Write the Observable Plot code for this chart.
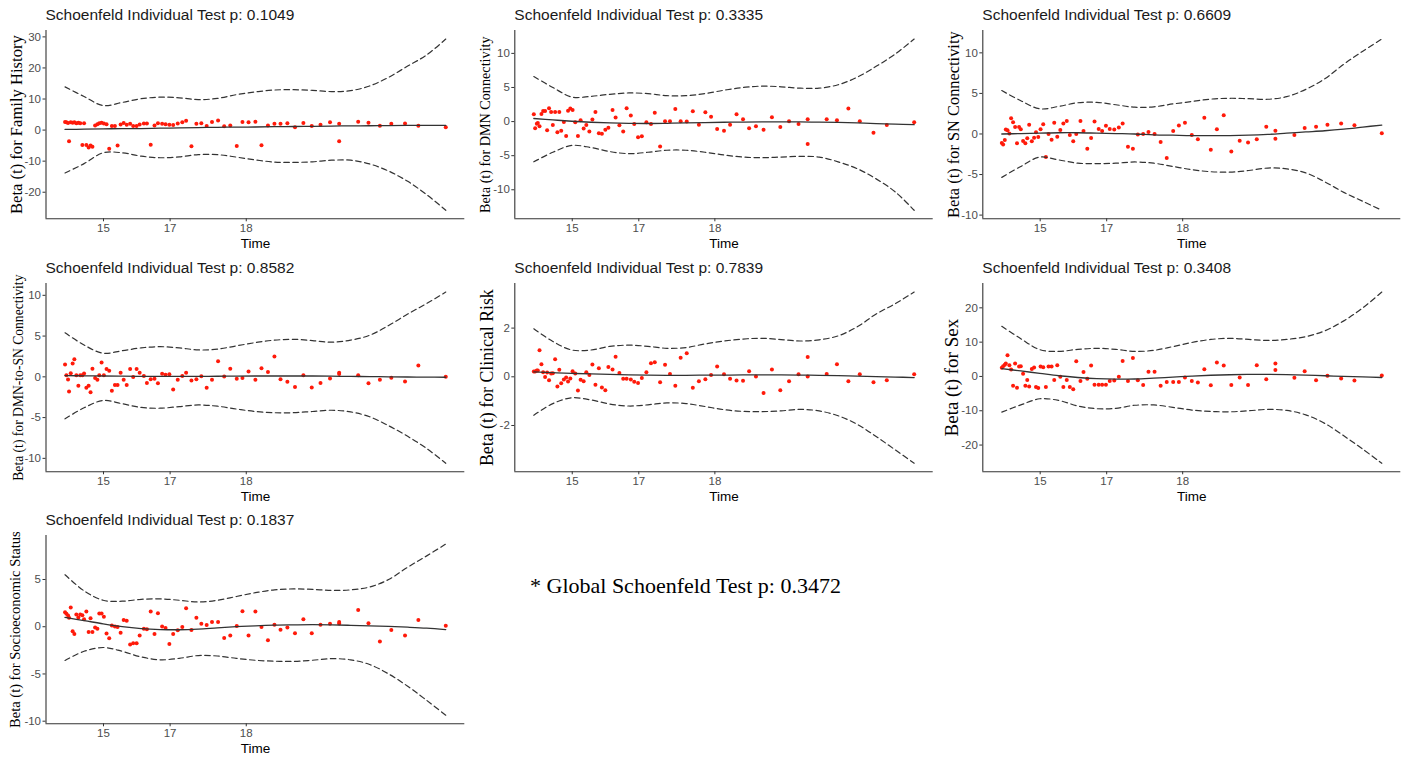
<!DOCTYPE html>
<html><head><meta charset="utf-8">
<script src="https://cdn.jsdelivr.net/npm/d3@7"></script>
<script src="https://cdn.jsdelivr.net/npm/@observablehq/plot@0.6"></script>
<style>
body{margin:0;background:#fff;width:1409px;height:761px;position:relative;overflow:hidden;font-family:"Liberation Sans",Arial,sans-serif}
.panel{position:absolute;width:469px;height:253px}
.panel svg{position:absolute;left:0;top:24px;overflow:visible}
.title{position:absolute;top:7.4px;font-size:15.5px;line-height:15.5px;color:#1a1a1a;white-space:nowrap}
.global{position:absolute;left:530px;top:574.6px;font-family:"Liberation Serif","Times New Roman",serif;font-size:22px;line-height:22px;color:#000;white-space:nowrap}
</style></head><body>
<script>
// transformed event-time positions (shared by all panels)
const tPos = [0,0.35,0.79,1.05,1.5,2.0,2.45,2.97,3.5,4.0,4.55,5.0,5.6,6.2,6.7,7.2,7.9,8.5,9.0,9.6,10.2,10.9,11.6,12.3,13.1,13.8,14.6,15.4,16.2,17.1,17.9,18.8,19.6,20.7,21.5,22.5,23.5,24.4,25.5,26.4,27.4,28.4,29.6,30.8,31.8,33.2,34.5,35.8,37.2,38.6,40.2,41.8,43.4,45.1,46.6,48.2,50.0,51.6,53.3,55.0,56.6,58.4,60.4,62.6,64.8,67.1,69.6,72.0,72.0,77.0,79.7,82.7,85.7,89.3,92.8,100];
const timeTickPos = [10.1, 27.6, 47.6];
const timeTickLabels = ["15", "17", "18"];
const curveT = [0,5,10,15,20,25,30,35,40,45,50,55,60,65,70,75,80,85,90,95,100];

const pValues = ["0.1049","0.3335","0.6609","0.8582","0.7839","0.3408","0.1837"];
const covariates = ["Family History","DMN Connectivity","SN Connectivity","DMN-to-SN Connectivity","Clinical Risk","Sex","Socioeconomic Status"];
const yTicks = [[-20,-10,0,10,20,30],[-10,-5,0,5,10],[-10,-5,0,5,10],[-10,-5,0,5,10],[-2,0,2],[-20,-10,0,10,20],[-10,-5,0,5]];
const globalP = "0.3472";

// residuals
const betaFamily = [2.6,2.5,2.3,-3.6,2.5,2.4,2.5,2.2,2.4,2.2,-4.8,2.2,-4.8,-5.6,-5.0,-5.4,1.5,1.9,2.2,2.4,2.1,1.9,-6.0,1.3,1.3,-5.0,1.8,2.3,1.7,2.0,1.3,1.3,1.8,2.1,2.1,-4.7,1.5,2.2,2.0,1.9,1.7,1.6,2.1,2.5,3.0,-5.2,2.0,2.2,1.3,2.6,3.1,1.2,1.5,-5.1,2.6,2.5,2.7,-4.9,1.5,2.0,2.0,2.2,0.9,2.3,1.3,1.7,2.5,2.0,-3.6,2.7,2.4,1.4,2.0,2.1,1.4,0.9];
const betaDMN = [1.07,-0.97,-0.3,-0.2,-0.7,1.1,1.55,1.55,-1.27,1.95,1.4,-0.5,1.4,-1.55,1.4,-1.36,-0.05,-2.1,1.6,1.9,1.7,-0.1,-2.1,0.2,-1.0,-0.5,-1.46,0.3,1.4,-1.7,-1.8,-1.2,-0.9,1.7,0.6,-0.55,-1.46,1.95,0.9,-0.35,-2.3,-2.15,-0.1,-0.35,1.3,-3.65,0.05,0.05,1.85,0.05,0.0,1.5,-0.45,1.35,0.7,-1.1,-1.36,-0.45,1.07,0.35,-0.97,-0.7,-1.2,0.65,-0.8,0.05,-0.35,0.35,-3.3,0.35,0.2,1.9,0.05,-1.65,-0.5,-0.1];
const betaSN = [-1.1,-1.3,-0.75,0.55,0.45,0.05,1.95,1.45,0.87,-1.15,0.87,0.58,-0.87,-1.15,-0.54,1.15,-0.9,-0.45,0.2,-0.37,0.58,1.2,-2.85,0.0,-0.7,1.37,-0.33,0.5,1.28,1.6,-0.12,-0.9,0.0,1.6,0.37,-1.83,-0.5,1.53,0.62,0.37,1.0,0.62,0.54,0.8,1.28,-1.58,-1.83,-0.05,0.0,0.25,0.0,-1.0,-2.95,0.37,1.03,1.37,-0.12,-0.66,2.0,-1.95,0.58,2.32,-2.15,-0.83,-1.04,-0.66,0.9,0.4,-0.58,-0.12,0.75,0.9,1.15,1.28,1.08,0.08];
const betaDMNSN = [1.5,0.2,-0.33,-1.8,0.45,1.65,2.15,0.2,-1.1,0.2,0.2,0.4,-1.35,-1.1,-1.9,1.0,-0.15,-0.37,0.2,1.75,0.2,0.95,0.75,-1.7,-1.0,-1.0,0.5,-0.37,-1.0,0.95,-0.03,0.95,0.5,0.1,-0.75,-0.3,-0.25,-0.8,0.37,0.25,0.33,-1.55,-0.37,0.1,0.5,-0.45,-0.3,0.08,-1.35,-0.37,1.9,0.03,1.0,-0.25,-0.15,0.65,-0.37,1.05,0.6,2.5,-0.3,-0.6,-1.25,0.2,-1.3,-0.75,-0.2,0.5,0.35,0.2,-0.78,-0.37,-0.1,-0.57,1.4,0.0];
const betaClinical = [0.22,0.22,0.26,0.26,1.09,0.52,0.19,-0.01,0.18,-0.14,0.14,0.15,0.72,-0.4,0.29,-0.27,-0.11,-0.03,-0.19,-0.07,0.23,0.14,-0.56,-0.12,-0.18,0.19,0.07,0.5,-0.33,0.35,-0.44,-0.55,0.4,0.3,0.82,0.16,-0.08,-0.08,-0.11,-0.2,-0.25,-0.05,0.19,0.56,0.6,-0.22,0.49,0.11,-0.37,0.78,0.97,-0.45,-0.18,-0.1,0.07,0.42,0.1,-0.08,-0.15,-0.16,0.23,0.01,-0.67,0.3,-0.55,-0.18,0.1,0.81,0.01,0.11,0.52,-0.18,0.1,-0.22,-0.14,0.1];
const betaSex = [2.5,3.0,3.4,3.8,6.2,3.3,2.0,-2.7,3.8,-3.3,2.9,3.0,0.8,-2.7,-1.0,-2.9,2.2,2.6,-3.1,-3.4,2.9,2.7,-3.1,2.9,2.9,-1.0,3.3,-0.1,-3.1,-1.0,-3.1,-3.7,4.4,-1.3,1.3,-0.7,3.2,-2.4,-2.4,-2.4,-2.4,-1.3,-1.2,-0.1,4.5,-1.3,5.4,-1.1,-2.5,1.4,1.4,-2.7,-1.6,-1.6,-1.6,-0.3,-1.3,-1.8,2.1,-2.6,4.1,3.2,-2.5,-0.3,-2.5,3.3,-0.8,3.8,1.9,-0.4,1.5,-1.1,0.2,-0.6,-1.2,0.3];
const betaSES = [1.54,1.36,1.2,0.94,2.03,-0.49,-0.77,1.29,0.98,1.29,1.22,0.8,1.6,-0.56,0.9,-0.56,-0.07,-0.21,1.4,1.4,1.05,-0.73,-1.22,0.14,0.03,-0.03,-0.63,0.7,0.63,-1.89,-1.75,-1.75,-0.94,-0.21,-0.28,1.6,-0.77,1.43,0.03,-0.14,-1.82,-0.77,-0.38,-0.03,1.96,-0.35,0.94,0.31,0.17,0.49,0.49,-1.19,-0.94,0.07,1.64,-0.94,1.6,-0.03,-1.43,0.21,-0.31,-0.07,-0.7,0.8,-0.7,0.21,0.31,0.49,0.35,1.78,0.38,-1.57,-0.35,-0.94,0.7,0.1];

// smoothed beta(t) and confidence bands, sampled at curveT
const fitFamily = [0.2,0.3,0.4,0.45,0.5,0.6,0.7,0.8,0.9,0.95,1.0,1.1,1.15,1.2,1.3,1.35,1.4,1.45,1.5,1.5,1.5];
const upFamily = [13.9,10.8,7.9,8.9,10.1,10.6,10.4,9.8,10.2,11.4,12.3,12.9,13.0,12.8,12.4,12.7,14.2,17.0,20.6,24.2,29.3];
const loFamily = [-13.8,-10.8,-7.3,-7.3,-8.4,-8.9,-8.6,-7.9,-7.9,-8.7,-9.6,-10.3,-10.4,-10.2,-9.7,-9.7,-10.9,-13.2,-16.5,-20.8,-25.8];
const fitDMN = [0.45,0.25,0.05,-0.1,-0.2,-0.25,-0.28,-0.25,-0.2,-0.15,-0.1,-0.07,-0.05,-0.05,-0.05,-0.08,-0.12,-0.2,-0.3,-0.38,-0.45];
const upDMN = [6.6,5.0,3.6,3.7,4.0,4.2,4.1,3.8,3.8,4.1,4.6,5.0,5.2,5.1,4.9,4.9,5.4,6.5,8.1,9.9,12.1];
const loDMN = [-5.9,-4.5,-3.5,-3.8,-4.4,-4.7,-4.5,-4.2,-4.2,-4.5,-4.9,-5.2,-5.3,-5.2,-5.1,-5.2,-5.9,-6.9,-8.4,-10.3,-13.0];
const fitSN = [0.0,0.05,0.1,0.15,0.15,0.1,0.05,0.0,-0.1,-0.15,-0.2,-0.2,-0.2,-0.15,-0.05,0.1,0.25,0.4,0.6,0.85,1.1];
const upSN = [5.35,4.1,3.1,3.4,3.85,3.9,3.6,3.3,3.35,3.7,4.0,4.3,4.4,4.35,4.28,4.6,5.5,6.8,8.6,10.2,11.7];
const loSN = [-5.35,-4.0,-2.85,-3.2,-3.6,-3.65,-3.6,-3.45,-3.6,-4.0,-4.4,-4.65,-4.7,-4.5,-4.2,-4.3,-4.8,-5.9,-7.2,-8.3,-9.4];
const fitDMNSN = [0.15,0.12,0.1,0.08,0.05,0.05,0.05,0.05,0.07,0.08,0.1,0.1,0.1,0.1,0.08,0.05,0.03,0.0,-0.02,-0.04,-0.05];
const upDMNSN = [5.4,3.9,2.9,3.2,3.55,3.7,3.55,3.3,3.4,3.8,4.2,4.5,4.6,4.45,4.25,4.5,5.1,6.3,7.7,9.0,10.4];
const loDMNSN = [-5.15,-3.8,-2.9,-3.3,-3.75,-3.85,-3.65,-3.45,-3.6,-3.95,-4.25,-4.4,-4.4,-4.25,-4.1,-4.3,-4.9,-6.0,-7.3,-8.8,-10.6];
const fitClinical = [0.2,0.17,0.14,0.12,0.1,0.08,0.07,0.06,0.06,0.07,0.07,0.08,0.08,0.08,0.07,0.06,0.05,0.03,0.01,-0.01,-0.03];
const upClinical = [1.97,1.45,1.1,1.1,1.25,1.3,1.25,1.17,1.2,1.35,1.47,1.55,1.58,1.53,1.47,1.52,1.68,2.05,2.58,3.0,3.48];
const loClinical = [-1.58,-1.1,-0.86,-0.95,-1.12,-1.2,-1.15,-1.07,-1.1,-1.22,-1.35,-1.42,-1.43,-1.4,-1.34,-1.4,-1.6,-1.95,-2.45,-3.0,-3.55];
const fitSex = [2.3,1.6,0.9,0.2,-0.3,-0.65,-0.8,-0.75,-0.5,-0.2,0.1,0.35,0.5,0.6,0.6,0.55,0.4,0.2,0.0,-0.15,-0.3];
const upSex = [14.6,11.0,7.8,7.3,7.9,8.2,7.9,7.3,7.6,8.7,9.9,10.8,11.1,10.8,10.5,10.8,11.6,13.3,16.2,20.0,24.6];
const loSex = [-10.4,-8.3,-6.5,-7.0,-8.6,-9.4,-9.3,-8.4,-8.3,-9.0,-9.8,-10.2,-10.3,-10.0,-9.6,-9.9,-11.2,-13.7,-17.3,-21.2,-25.3];
const fitSES = [0.98,0.65,0.3,0.0,-0.2,-0.3,-0.32,-0.25,-0.12,0.0,0.1,0.17,0.2,0.22,0.2,0.15,0.1,0.03,-0.05,-0.15,-0.3];
const upSES = [5.5,3.8,2.8,2.7,2.9,2.95,2.8,2.62,2.8,3.2,3.6,3.9,4.0,3.95,3.85,3.9,4.2,5.0,6.3,7.5,8.75];
const loSES = [-3.57,-2.6,-2.2,-2.6,-3.2,-3.5,-3.35,-3.05,-3.1,-3.35,-3.55,-3.65,-3.67,-3.55,-3.38,-3.5,-4.0,-5.0,-6.3,-7.8,-9.37];

const betas = [betaFamily, betaDMN, betaSN, betaDMNSN, betaClinical, betaSex, betaSES];
const fits = [fitFamily, fitDMN, fitSN, fitDMNSN, fitClinical, fitSex, fitSES];
const ups = [upFamily, upDMN, upSN, upDMNSN, upClinical, upSex, upSES];
const los = [loFamily, loDMN, loSN, loDMNSN, loClinical, loSex, loSES];

// layout / style
const colLeft = [0, 470, 940];
const rowTop = [0, 253, 505];
const marginLefts = [45.5, 44.3, 42.3];
const marginRights = [4.7, 6.3, 8.7];
const labelSizes = [16.6, 14.2, 16.4, 13.6, 17.8, 19, 14.5];
const labelDx = [-29.5, -29.3, -29, -27.5, -27.6, -30.6, -30.5];

const timeLabel = new Map(timeTickPos.map((t, k) => [t, timeTickLabels[k]]));

covariates.forEach((cov, i) => {
  const col = i % 3, row = Math.floor(i / 3);
  const div = document.createElement("div");
  div.className = "panel";
  div.style.left = colLeft[col] + "px";
  div.style.top = rowTop[row] + "px";
  const title = document.createElement("div");
  title.className = "title";
  title.style.left = marginLefts[col] + "px";
  title.textContent = "Schoenfeld Individual Test p: " + pValues[i];
  div.appendChild(title);

  const pts = tPos.map((t, j) => ({t, y: betas[i][j]}));
  const band = curveT.map((t, j) => ({t, fit: fits[i][j], up: ups[i][j], lo: los[i][j]}));
  const all = [...betas[i], ...ups[i], ...los[i]];
  const mn = d3.min(all), mx = d3.max(all), pad = (mx - mn) * 0.05;
  const yDom = [mn - pad, mx + pad];

  const chart = Plot.plot({
    width: 469, height: 228,
    marginTop: 6, marginBottom: 33.7, marginLeft: marginLefts[col], marginRight: marginRights[col],
    style: {fontFamily: "'Liberation Sans', Arial, sans-serif", background: "transparent", overflow: "visible"},
    x: {domain: [-5, 105], axis: null},
    y: {domain: yDom, axis: null},
    marks: [
      Plot.axisX({ticks: timeTickPos, tickFormat: d => timeLabel.get(d), tickSize: 3, tickPadding: 2.5, fontSize: 11.5, fill: "#4d4d4d", stroke: "#333", label: null}),
      Plot.axisY({ticks: yTicks[i], tickFormat: d => String(d), tickSize: 3, tickPadding: 2, fontSize: 11.5, fill: "#4d4d4d", stroke: "#333", label: null}),
      Plot.ruleY([yDom[0]], {stroke: "#333", strokeWidth: 1.1}),
      Plot.ruleX([-5], {stroke: "#333", strokeWidth: 1.1}),
      Plot.dot(pts, {x: "t", y: "y", r: 2, fill: "#ff1a0a", stroke: "none"}),
      Plot.line(band, {x: "t", y: "fit", curve: "catmull-rom", stroke: "#333", strokeWidth: 1.3}),
      Plot.line(band, {x: "t", y: "up", curve: "catmull-rom", stroke: "#333", strokeWidth: 1.2, strokeDasharray: "5.5,3.5"}),
      Plot.line(band, {x: "t", y: "lo", curve: "catmull-rom", stroke: "#333", strokeWidth: 1.2, strokeDasharray: "5.5,3.5"}),
      Plot.text(["Beta (t) for " + cov], {text: d => d, frameAnchor: "left", dx: labelDx[i], rotate: -90, textAnchor: "middle", lineAnchor: "middle", fontSize: labelSizes[i], fontFamily: "'Liberation Serif', 'Times New Roman', serif", fill: "#000"}),
      Plot.text(["Time"], {text: d => d, frameAnchor: "bottom", lineAnchor: "middle", dy: 24.5, fontSize: 13.5, fill: "#000"})
    ]
  });
  div.appendChild(chart);
  document.body.appendChild(div);
});

const g = document.createElement("div");
g.className = "global";
g.textContent = "* Global Schoenfeld Test p: " + globalP;
document.body.appendChild(g);
</script>
</body></html>
